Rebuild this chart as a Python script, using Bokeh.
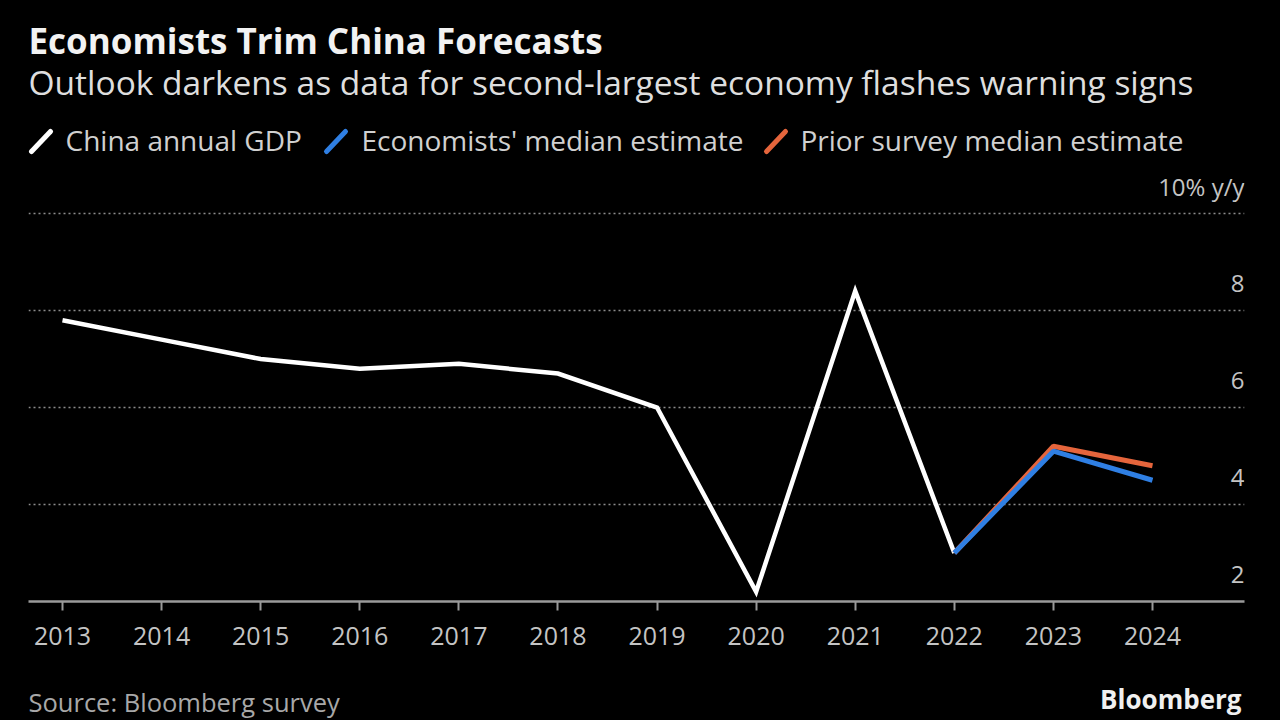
from bokeh.plotting import figure
from bokeh.models import Range1d, FixedTicker
from bokeh.layouts import column
from bokeh.embed import file_html
from bokeh.resources import INLINE
from bokeh.core.properties import value

# ---------------- data ----------------
years = [2013, 2014, 2015, 2016, 2017, 2018, 2019, 2020, 2021, 2022, 2023, 2024]
gdp_years = [2013, 2014, 2015, 2016, 2017, 2018, 2019, 2020, 2021, 2022]
gdp = [7.8, 7.4, 7.0, 6.8, 6.9, 6.7, 6.0, 2.2, 8.4, 3.0]
est_years = [2022, 2023, 2024]
median_est = [3.0, 5.1, 4.5]
prior_est = [3.0, 5.2, 4.8]
y_ticks = [2, 4, 6, 8, 10]
y_tick_labels = ["2", "4", "6", "8", "10% y/y"]

title_text = "Economists Trim China Forecasts"
subtitle_text = "Outlook darkens as data for second-largest economy flashes warning signs"
legend_labels = ["China annual GDP", "Economists' median estimate", "Prior survey median estimate"]
source_text = "Source: Bloomberg survey"
brand_text = "Bloomberg"

# ---------------- style ----------------
FONT = "Open Sans"
BG = "#000000"
WHITE = "#ffffff"
BLUE = "#2f7fe3"
ORANGE = "#e5653c"
series_colors = [WHITE, BLUE, ORANGE]
W = 1280
FRAME_L, FRAME_R = 28, 1244   # page x of plot frame (all figures share it in the column)

def blank(h):
    f = figure(width=W, height=h, x_range=Range1d(FRAME_L, FRAME_R), y_range=Range1d(h, 0),
               output_backend="svg", toolbar_location=None,
               x_axis_location=None, y_axis_location=None,
               min_border_left=FRAME_L, min_border_right=W - FRAME_R,
               min_border_top=0, min_border_bottom=0)
    f.background_fill_color = BG
    f.border_fill_color = BG
    f.outline_line_color = None
    f.grid.visible = False
    return f

# ---------------- header ----------------
H1 = 170
head = blank(H1)
head.text(x=[28], y=[40], text=[title_text], text_font=value(FONT), text_font_style="bold",
          text_font_size="35px", text_color="#f2f2f2", text_baseline="middle")
head.text(x=[28], y=[81], text=[subtitle_text], text_font=value(FONT),
          text_font_size="33.5px", text_color="#dedede", text_baseline="middle")
leg_icon_x = [31, 326, 766]
leg_text_x = [65, 361, 800]
head.segment(x0=leg_icon_x, y0=[151] * 3, x1=[x + 19 for x in leg_icon_x], y1=[131] * 3,
             line_color=series_colors, line_width=5, line_cap="round")
head.text(x=leg_text_x, y=[139] * 3, text=legend_labels, text_font=value(FONT),
          text_font_size="28px", text_color="#d0d0d0", text_baseline="middle")

# ---------------- main chart ----------------
H2 = 498
px_per_unit = 48.5
x_step = 99.09
p = figure(width=W, height=H2,
           x_range=Range1d(2013 - 34 / x_step, 2024 + 92 / x_step),
           y_range=Range1d(2, 10 + 43 / px_per_unit),
           output_backend="svg", toolbar_location=None, y_axis_location=None,
           min_border_left=FRAME_L, min_border_right=W - FRAME_R,
           min_border_top=0, min_border_bottom=67)
p.background_fill_color = BG
p.border_fill_color = BG
p.outline_line_color = None
p.xgrid.visible = False
p.ygrid.ticker = FixedTicker(ticks=y_ticks)
p.ygrid.grid_line_color = "#8c8c8c"
p.ygrid.grid_line_dash = "2 3"
p.ygrid.grid_line_width = 1.5

ax = p.xaxis[0]
ax.ticker = FixedTicker(ticks=years)
ax.axis_line_color = "#9a9a9a"
ax.axis_line_width = 2.5
ax.major_tick_line_color = "#9a9a9a"
ax.major_tick_line_width = 2
ax.major_tick_out = 9
ax.major_tick_in = 0
ax.minor_tick_line_color = None
ax.major_label_text_font = FONT
ax.major_label_text_font_size = "25px"
ax.major_label_text_color = "#c4c4c4"
ax.major_label_standoff = 16

p.text(x=[p.x_range.end] * len(y_ticks), y=y_ticks, text=y_tick_labels,
       text_font=value(FONT), text_font_size="24px", text_color="#c4c4c4",
       text_align="right", text_baseline="middle", y_offset=-27)

p.line(gdp_years, gdp, line_color=WHITE, line_width=4.5, line_join="miter")
p.line(est_years, prior_est, line_color=ORANGE, line_width=5)
p.line(est_years, median_est, line_color=BLUE, line_width=5)

# ---------------- footer ----------------
H3 = 52
foot = blank(H3)
foot.text(x=[28], y=[33], text=[source_text], text_font=value(FONT),
          text_font_size="25.5px", text_color="#a8a8a8", text_baseline="middle")
foot.text(x=[1241], y=[30], text=[brand_text], text_font=value(FONT), text_font_style="bold",
          text_font_size="26px", text_color="#f0f0f0", text_baseline="middle", text_align="right")

layout = column(head, p, foot, spacing=0)
html = file_html(layout, INLINE)
html = html.replace("<head>", "<head><style>html,body{background:#000000;}</style>", 1)
open("out.html", "w").write(html)
